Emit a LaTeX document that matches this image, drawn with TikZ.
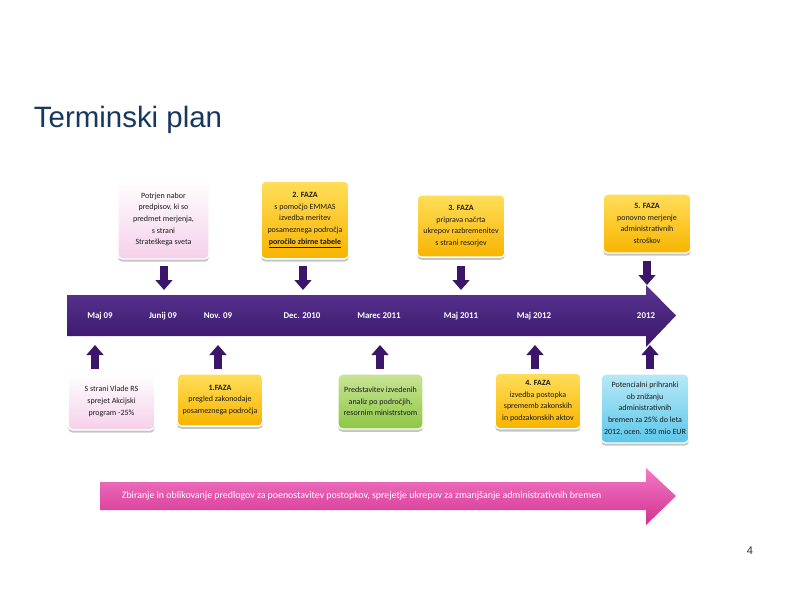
\documentclass[tikz,border=0pt]{standalone}
\usepackage{fontspec}
\setmainfont{Liberation Sans}
\newfontfamily\boxfont{Carlito}
\usetikzlibrary{shadows,arrows.meta}

\definecolor{titleblue}{HTML}{17375E}
\definecolor{tlpurpletop}{HTML}{5A3592}
\definecolor{tlpurplebot}{HTML}{3A1569}
\definecolor{tlpinktop}{HTML}{F27AC6}
\definecolor{tlpinkbot}{HTML}{D3318F}
\definecolor{boxpink}{HTML}{F5D0EA}
\definecolor{boxyellowtop}{HTML}{FFDE5A}
\definecolor{boxyellowbot}{HTML}{F8B400}
\definecolor{boxgreentop}{HTML}{C8E596}
\definecolor{boxgreenbot}{HTML}{8EC646}
\definecolor{boxcyantop}{HTML}{B8E8F6}
\definecolor{boxcyanbot}{HTML}{5CC7EA}
\definecolor{boxtext}{HTML}{1A1A1A}

\tikzset{
  tlbox/.style={rounded corners=4pt, draw=white, line width=1.2pt, align=center,
    inner sep=1pt, text=boxtext, font=\boxfont\fontsize{7.2}{10.5}\selectfont,
    drop shadow={opacity=0.45, shadow xshift=0pt, shadow yshift=-2.5pt}},
  pinkbox/.style={tlbox, top color=white, bottom color=boxpink},
  yellowbox/.style={tlbox, top color=boxyellowtop, bottom color=boxyellowbot},
  greenbox/.style={tlbox, top color=boxgreentop, bottom color=boxgreenbot},
  cyanbox/.style={tlbox, top color=boxcyantop, bottom color=boxcyanbot},
  marker/.style={line width=8pt, draw=tlpurplebot,
    -{Triangle[width=15pt,length=9pt]}},
  datelabel/.style={text=white, font=\boxfont\bfseries\fontsize{8}{9}\selectfont},
}

\begin{document}
\begin{tikzpicture}[x=0.9pt, y=-0.9pt]

    % page frame
    \fill[white] (0,0) rectangle (794,595);
    \useasboundingbox (0,0) rectangle (794,595);

    % title and page number
    \node[anchor=base west, font=\fontsize{26.5}{30}\selectfont, text=titleblue]
        (title) at (30,127) {Terminski plan};
    \node[font=\fontsize{10}{12}\selectfont, text=black!80] (pagenum) at (750,551) {4};

    % main timeline arrow
    \shade[top color=tlpurpletop, bottom color=tlpurplebot]
        (67,295) -- (646,295) -- (646,285) -- (676,315.5) -- (646,347)
        -- (646,336) -- (67,336) -- cycle;

    % dates on the timeline
    \foreach \x/\lbl/\nm in {100/Maj 09/maj09, 163/Junij 09/junij09, 218/Nov. 09/nov09,
        302/Dec. 2010/dec10, 379/Marec 2011/marec11, 461/Maj 2011/maj11,
        534/Maj 2012/maj12, 646/2012/leto12} {
        \node[datelabel] (\nm) at (\x,316) {\lbl};
    }

    % markers pointing down from the upper boxes
    \foreach \x/\ya in {164/266, 303/266, 461/266, 647/261} {
        \draw[marker] (\x,\ya) -- (\x,\ya+24);
    }
    % markers pointing up to the lower boxes
    \foreach \x in {95, 218, 380, 535, 650} {
        \draw[marker] (\x,369) -- (\x,345);
    }

    % upper boxes
    \node[pinkbox, minimum width=82pt, minimum height=71pt] (potrjen) at (163.5,219.5)
        {Potrjen nabor\\predpisov, ki so\\predmet merjenja,\\s strani\\Strateškega sveta};
    \node[yellowbox, minimum width=79pt, minimum height=70pt] (faza2) at (305,220)
        {\textbf{2. FAZA}\\s pomočjo EMMAS\\izvedba meritev\\posameznega področja\\
         \underline{\textbf{poročilo zbirne tabele}}};
    \node[yellowbox, minimum width=79pt, minimum height=56pt] (faza3) at (461,226)
        {\textbf{3. FAZA}\\priprava načrta\\ukrepov razbremenitev\\s strani resorjev};
    \node[yellowbox, minimum width=79pt, minimum height=53pt] (faza5) at (647,223.5)
        {\textbf{5. FAZA}\\ponovno merjenje\\administrativnih\\stroškov};

    % lower boxes
    \node[pinkbox, minimum width=78pt, minimum height=51pt] (vlada) at (111.5,401.5)
        {S strani Vlade RS\\sprejet Akcijski\\program -25\%};
    \node[yellowbox, minimum width=77pt, minimum height=47pt] (faza1) at (220,400)
        {\textbf{1.FAZA}\\pregled zakonodaje\\posameznega področja};
    \node[greenbox, minimum width=76.5pt, minimum height=49.5pt] (analize) at (380.5,401.5)
        {Predstavitev izvedenih\\analiz po področjih,\\resornim ministrstvom};
    \node[yellowbox, minimum width=77pt, minimum height=50pt] (faza4) at (538,401)
        {\textbf{4. FAZA}\\izvedba postopka\\sprememb zakonskih\\in podzakonskih aktov};
    \node[cyanbox, minimum width=79pt, minimum height=62pt] (prihranki) at (645,408.5)
        {Potencialni prihranki\\ob znižanju\\administrativnih\\bremen za 25\% do leta\\
         2012, ocen. 350 mio EUR};

    % lower process arrow
    \shade[top color=tlpinktop, bottom color=tlpinkbot]
        (100,482) -- (646,482) -- (646,468) -- (676,496) -- (646,525)
        -- (646,510) -- (100,510) -- cycle;
    \node[anchor=west, text=white, font=\boxfont\fontsize{8.9}{10}\selectfont]
        (zbiranje) at (118,496)
        {Zbiranje in oblikovanje predlogov za poenostavitev postopkov, sprejetje ukrepov za zmanjšanje administrativnih bremen};

\end{tikzpicture}
\end{document}
